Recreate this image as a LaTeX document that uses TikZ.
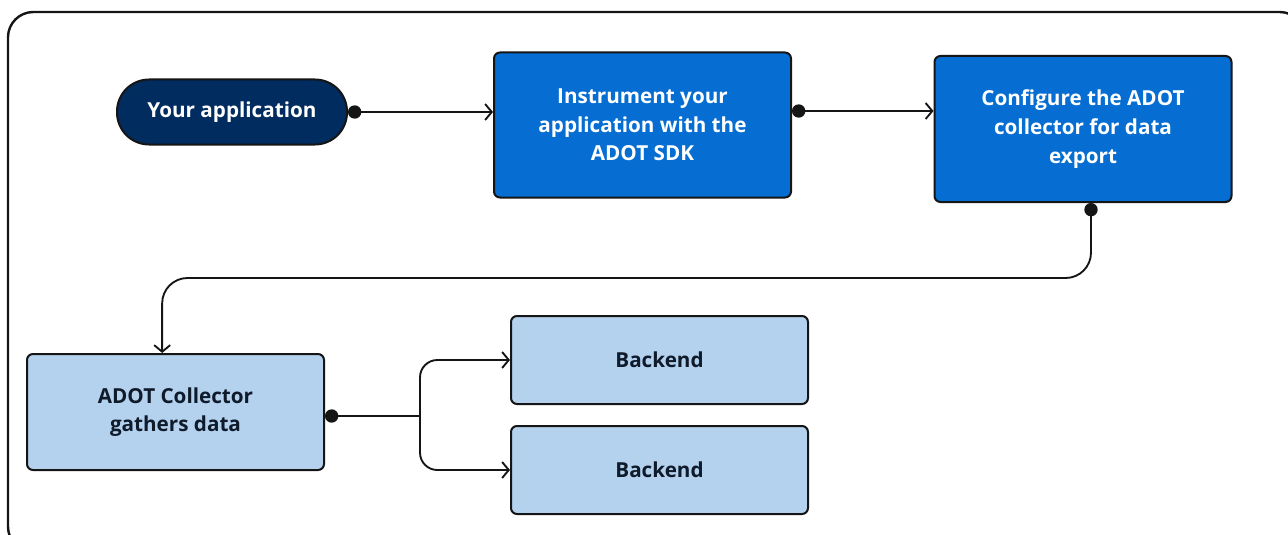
\documentclass[tikz,border=0pt]{standalone}
\usepackage{fontspec}
\setmainfont{Open Sans}
\usetikzlibrary{arrows.meta,calc}
\definecolor{navy}{HTML}{002C5F}
\definecolor{midblue}{HTML}{066ED2}
\definecolor{lightblue}{HTML}{B4D1EE}
\definecolor{ink}{HTML}{151515}
\definecolor{txtdark}{HTML}{0F1B2A}
\tikzset{
  box/.style={draw=ink, line width=1.5pt, rounded corners=4.5pt, minimum width=222.75pt,
    align=center, font=\bfseries\fontsize{15.5}{21.5}\selectfont, inner sep=0pt},
  darkbox/.style={box, fill=midblue, text=white},
  lightbox/.style={box, fill=lightblue, text=txtdark},
  pill/.style={box, fill=navy, text=white, rounded corners=24pt, minimum width=172.5pt, minimum height=48.75pt},
  conn/.style={draw=ink, line width=1.4pt, {Circle[length=10pt]}-{Straight Barb[length=5pt,width=12pt]}},
  connplain/.style={draw=ink, line width=1.4pt},
  connarrow/.style={draw=ink, line width=1.4pt, -{Straight Barb[length=5pt,width=12pt]}},
}
\begin{document}
\begin{tikzpicture}[x=0.75pt,y=-0.75pt]
\useasboundingbox (0,0) rectangle (1288,535);
\begin{scope}
  \clip (0,0) rectangle (1288,535);
  \draw[ink, line width=1.8pt, rounded corners=19pt] (8,12) rectangle (1305,552);
\end{scope}

\node[pill] (app) at (232,112) {Your application};
\node[darkbox, minimum height=108.75pt] (inst) at (642.5,125) {Instrument your\\application with the\\ADOT SDK};
\node[darkbox, minimum height=109.5pt] (conf) at (1083,129) {Configure the ADOT\\collector for data\\export};
\node[lightbox, minimum height=87pt] (adot) at (175.5,412) {ADOT Collector\\gathers data};
\node[lightbox, minimum height=66pt] (back1) at (659.5,360) {Backend};
\node[lightbox, minimum height=66pt] (back2) at (659.5,470) {Backend};

\draw[conn] (app.east) -- (app.east -| inst.west);

\coordinate (p2) at ([yshift=10.5pt]inst.east);
\draw[conn] (p2) -- (p2 -| conf.west);

\coordinate (p3) at ([xshift=6pt]conf.south);
\coordinate (p4) at ([xshift=-10pt]adot.north);
\coordinate (mid) at (0,278);
\draw[conn, rounded corners=19pt] (p3) -- (p3 |- mid) -- (p4 |- mid) -- (p4);

\coordinate (p5) at ([yshift=-3pt]adot.east);
\coordinate (br) at (420,416);
\draw[connplain, {Circle[length=10pt]}-] (p5) -- (br);
\draw[connarrow, rounded corners=13pt] (br) -- (br |- back1.west) -- (back1.west);
\draw[connarrow, rounded corners=13pt] (br) -- (br |- back2.west) -- (back2.west);
\end{tikzpicture}
\end{document}
